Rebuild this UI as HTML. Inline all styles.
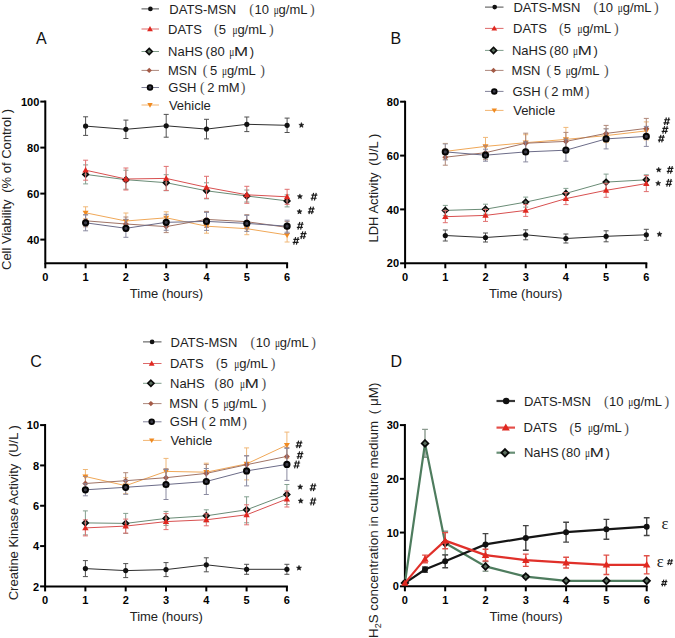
<!DOCTYPE html><html><head><meta charset="utf-8"><style>html,body{margin:0;padding:0;background:#fff;}svg{display:block;}</style></head><body>
<svg width="675" height="638" viewBox="0 0 675 638" font-family='"Liberation Sans", sans-serif'>
<rect width="675" height="638" fill="#fff"/>
<text x="36" y="44" font-size="16" fill="#111">A</text>
<path d="M45.3,101.6V263.3H287.09999999999997" stroke="#000" stroke-width="2" fill="none" stroke-linecap="square"/>
<path d="M40.3,101.6H45.3" stroke="#000" stroke-width="2"/>
<text x="39.3" y="105.69999999999999" text-anchor="end" font-size="11" font-weight="bold">100</text>
<path d="M40.3,147.6H45.3" stroke="#000" stroke-width="2"/>
<text x="39.3" y="151.7" text-anchor="end" font-size="11" font-weight="bold">80</text>
<path d="M40.3,193.6H45.3" stroke="#000" stroke-width="2"/>
<text x="39.3" y="197.7" text-anchor="end" font-size="11" font-weight="bold">60</text>
<path d="M40.3,239.6H45.3" stroke="#000" stroke-width="2"/>
<text x="39.3" y="243.7" text-anchor="end" font-size="11" font-weight="bold">40</text>
<path d="M45.3,263.3V268.3" stroke="#000" stroke-width="2"/>
<text x="45.3" y="280.8" text-anchor="middle" font-size="11" font-weight="bold">0</text>
<path d="M85.6,263.3V268.3" stroke="#000" stroke-width="2"/>
<text x="85.6" y="280.8" text-anchor="middle" font-size="11" font-weight="bold">1</text>
<path d="M125.9,263.3V268.3" stroke="#000" stroke-width="2"/>
<text x="125.9" y="280.8" text-anchor="middle" font-size="11" font-weight="bold">2</text>
<path d="M166.2,263.3V268.3" stroke="#000" stroke-width="2"/>
<text x="166.2" y="280.8" text-anchor="middle" font-size="11" font-weight="bold">3</text>
<path d="M206.5,263.3V268.3" stroke="#000" stroke-width="2"/>
<text x="206.5" y="280.8" text-anchor="middle" font-size="11" font-weight="bold">4</text>
<path d="M246.8,263.3V268.3" stroke="#000" stroke-width="2"/>
<text x="246.8" y="280.8" text-anchor="middle" font-size="11" font-weight="bold">5</text>
<path d="M287.1,263.3V268.3" stroke="#000" stroke-width="2"/>
<text x="287.1" y="280.8" text-anchor="middle" font-size="11" font-weight="bold">6</text>
<text x="166.4" y="298.4" text-anchor="middle" font-size="13" fill="#222">Time (hours)</text>
<text transform="translate(11.1,270) rotate(-90)" font-size="13" fill="#222">Cell Viability <tspan dx="3">(</tspan>% of Control )</text>
<g>
<path d="M85.6,206.8V218.8M83.1,206.8H88.1M83.1,218.8H88.1" stroke="#f0b878" stroke-width="1.0" fill="none"/>
<path d="M125.9,213.0V229.0M123.4,213.0H128.4M123.4,229.0H128.4" stroke="#f0b878" stroke-width="1.0" fill="none"/>
<path d="M166.2,211.8V223.8M163.7,211.8H168.7M163.7,223.8H168.7" stroke="#f0b878" stroke-width="1.0" fill="none"/>
<path d="M206.5,219.2V233.2M204.0,219.2H209.0M204.0,233.2H209.0" stroke="#f0b878" stroke-width="1.0" fill="none"/>
<path d="M246.8,222.7V234.7M244.3,222.7H249.3M244.3,234.7H249.3" stroke="#f0b878" stroke-width="1.0" fill="none"/>
<path d="M287.1,228.0V242.0M284.6,228.0H289.6M284.6,242.0H289.6" stroke="#f0b878" stroke-width="1.0" fill="none"/>
<polyline points="85.6,212.8 125.9,221.0 166.2,217.8 206.5,226.2 246.8,228.7 287.1,235.0" fill="none" stroke="#f0a858" stroke-width="1.0"/>
<path d="M82.6,210.7 L88.6,210.7 L85.6,215.8Z" fill="#f08a20"/>
<path d="M122.9,218.9 L128.9,218.9 L125.9,224.0Z" fill="#f08a20"/>
<path d="M163.2,215.7 L169.2,215.7 L166.2,220.8Z" fill="#f08a20"/>
<path d="M203.5,224.1 L209.5,224.1 L206.5,229.2Z" fill="#f08a20"/>
<path d="M243.8,226.6 L249.8,226.6 L246.8,231.7Z" fill="#f08a20"/>
<path d="M284.1,232.9 L290.1,232.9 L287.1,238.0Z" fill="#f08a20"/>
</g>
<g>
<path d="M85.6,214.8V226.8M83.1,214.8H88.1M83.1,226.8H88.1" stroke="#b08878" stroke-width="1.0" fill="none"/>
<path d="M125.9,217.0V231.0M123.4,217.0H128.4M123.4,231.0H128.4" stroke="#b08878" stroke-width="1.0" fill="none"/>
<path d="M166.2,220.6V232.6M163.7,220.6H168.7M163.7,232.6H168.7" stroke="#b08878" stroke-width="1.0" fill="none"/>
<path d="M206.5,211.4V227.4M204.0,211.4H209.0M204.0,227.4H209.0" stroke="#b08878" stroke-width="1.0" fill="none"/>
<path d="M246.8,214.7V228.7M244.3,214.7H249.3M244.3,228.7H249.3" stroke="#b08878" stroke-width="1.0" fill="none"/>
<path d="M287.1,221.4V233.4M284.6,221.4H289.6M284.6,233.4H289.6" stroke="#b08878" stroke-width="1.0" fill="none"/>
<polyline points="85.6,220.8 125.9,224.0 166.2,226.6 206.5,219.4 246.8,221.7 287.1,227.4" fill="none" stroke="#a07466" stroke-width="1.0"/>
<path d="M85.6,217.8 L88.6,220.8 L85.6,223.8 L82.6,220.8Z" fill="#a45a46"/>
<path d="M125.9,221.0 L128.9,224.0 L125.9,227.0 L122.9,224.0Z" fill="#a45a46"/>
<path d="M166.2,223.6 L169.2,226.6 L166.2,229.6 L163.2,226.6Z" fill="#a45a46"/>
<path d="M206.5,216.4 L209.5,219.4 L206.5,222.4 L203.5,219.4Z" fill="#a45a46"/>
<path d="M246.8,218.7 L249.8,221.7 L246.8,224.7 L243.8,221.7Z" fill="#a45a46"/>
<path d="M287.1,224.4 L290.1,227.4 L287.1,230.4 L284.1,227.4Z" fill="#a45a46"/>
</g>
<g>
<path d="M85.6,214.8V230.8M83.1,214.8H88.1M83.1,230.8H88.1" stroke="#8a8aa0" stroke-width="1.0" fill="none"/>
<path d="M125.9,219.3V237.3M123.4,219.3H128.4M123.4,237.3H128.4" stroke="#8a8aa0" stroke-width="1.0" fill="none"/>
<path d="M166.2,214.3V230.3M163.7,214.3H168.7M163.7,230.3H168.7" stroke="#8a8aa0" stroke-width="1.0" fill="none"/>
<path d="M206.5,212.4V230.4M204.0,212.4H209.0M204.0,230.4H209.0" stroke="#8a8aa0" stroke-width="1.0" fill="none"/>
<path d="M246.8,215.4V231.4M244.3,215.4H249.3M244.3,231.4H249.3" stroke="#8a8aa0" stroke-width="1.0" fill="none"/>
<path d="M287.1,220.2V232.2M284.6,220.2H289.6M284.6,232.2H289.6" stroke="#8a8aa0" stroke-width="1.0" fill="none"/>
<polyline points="85.6,222.8 125.9,228.3 166.2,222.3 206.5,221.4 246.8,223.4 287.1,226.2" fill="none" stroke="#6c6c88" stroke-width="1.0"/>
<circle cx="85.6" cy="222.8" r="2.60" fill="#3c3c48" stroke="#050505" stroke-width="2.00"/>
<circle cx="125.9" cy="228.3" r="2.60" fill="#3c3c48" stroke="#050505" stroke-width="2.00"/>
<circle cx="166.2" cy="222.3" r="2.60" fill="#3c3c48" stroke="#050505" stroke-width="2.00"/>
<circle cx="206.5" cy="221.4" r="2.60" fill="#3c3c48" stroke="#050505" stroke-width="2.00"/>
<circle cx="246.8" cy="223.4" r="2.60" fill="#3c3c48" stroke="#050505" stroke-width="2.00"/>
<circle cx="287.1" cy="226.2" r="2.60" fill="#3c3c48" stroke="#050505" stroke-width="2.00"/>
</g>
<g>
<path d="M85.6,164.9V183.9M83.1,164.9H88.1M83.1,183.9H88.1" stroke="#84a090" stroke-width="1.0" fill="none"/>
<path d="M125.9,170.2V189.2M123.4,170.2H128.4M123.4,189.2H128.4" stroke="#84a090" stroke-width="1.0" fill="none"/>
<path d="M166.2,174.7V190.7M163.7,174.7H168.7M163.7,190.7H168.7" stroke="#84a090" stroke-width="1.0" fill="none"/>
<path d="M206.5,182.8V198.8M204.0,182.8H209.0M204.0,198.8H209.0" stroke="#84a090" stroke-width="1.0" fill="none"/>
<path d="M246.8,190.0V202.0M244.3,190.0H249.3M244.3,202.0H249.3" stroke="#84a090" stroke-width="1.0" fill="none"/>
<path d="M287.1,194.9V206.9M284.6,194.9H289.6M284.6,206.9H289.6" stroke="#84a090" stroke-width="1.0" fill="none"/>
<polyline points="85.6,174.4 125.9,179.7 166.2,182.7 206.5,190.8 246.8,196.0 287.1,200.9" fill="none" stroke="#6a8c76" stroke-width="1.0"/>
<path d="M85.6,171.5 L88.5,174.4 L85.6,177.3 L82.7,174.4Z" fill="#5a6e5e" stroke="#0a0a0a" stroke-width="1.50"/>
<path d="M125.9,176.8 L128.8,179.7 L125.9,182.6 L123.0,179.7Z" fill="#5a6e5e" stroke="#0a0a0a" stroke-width="1.50"/>
<path d="M166.2,179.8 L169.1,182.7 L166.2,185.6 L163.3,182.7Z" fill="#5a6e5e" stroke="#0a0a0a" stroke-width="1.50"/>
<path d="M206.5,187.9 L209.4,190.8 L206.5,193.7 L203.6,190.8Z" fill="#5a6e5e" stroke="#0a0a0a" stroke-width="1.50"/>
<path d="M246.8,193.1 L249.7,196.0 L246.8,198.9 L243.9,196.0Z" fill="#5a6e5e" stroke="#0a0a0a" stroke-width="1.50"/>
<path d="M287.1,198.0 L290.0,200.9 L287.1,203.8 L284.2,200.9Z" fill="#5a6e5e" stroke="#0a0a0a" stroke-width="1.50"/>
</g>
<g>
<path d="M85.6,160.2V180.2M83.1,160.2H88.1M83.1,180.2H88.1" stroke="#e07070" stroke-width="1.0" fill="none"/>
<path d="M125.9,168.0V190.0M123.4,168.0H128.4M123.4,190.0H128.4" stroke="#e07070" stroke-width="1.0" fill="none"/>
<path d="M166.2,166.4V190.4M163.7,166.4H168.7M163.7,190.4H168.7" stroke="#e07070" stroke-width="1.0" fill="none"/>
<path d="M206.5,176.3V198.3M204.0,176.3H209.0M204.0,198.3H209.0" stroke="#e07070" stroke-width="1.0" fill="none"/>
<path d="M246.8,186.3V203.3M244.3,186.3H249.3M244.3,203.3H249.3" stroke="#e07070" stroke-width="1.0" fill="none"/>
<path d="M287.1,189.3V204.3M284.6,189.3H289.6M284.6,204.3H289.6" stroke="#e07070" stroke-width="1.0" fill="none"/>
<polyline points="85.6,170.2 125.9,179.0 166.2,178.4 206.5,187.3 246.8,194.8 287.1,196.8" fill="none" stroke="#d85050" stroke-width="1.0"/>
<path d="M85.6,167.0 L88.8,172.6 L82.4,172.6Z" fill="#e02820"/>
<path d="M125.9,175.8 L129.1,181.4 L122.7,181.4Z" fill="#e02820"/>
<path d="M166.2,175.2 L169.4,180.8 L163.0,180.8Z" fill="#e02820"/>
<path d="M206.5,184.1 L209.7,189.7 L203.3,189.7Z" fill="#e02820"/>
<path d="M246.8,191.6 L250.0,197.2 L243.6,197.2Z" fill="#e02820"/>
<path d="M287.1,193.6 L290.3,199.2 L283.9,199.2Z" fill="#e02820"/>
</g>
<g>
<path d="M85.6,116.8V135.4M83.1,116.8H88.1M83.1,135.4H88.1" stroke="#505050" stroke-width="1.0" fill="none"/>
<path d="M125.9,120.1V138.5M123.4,120.1H128.4M123.4,138.5H128.4" stroke="#505050" stroke-width="1.0" fill="none"/>
<path d="M166.2,114.4V137.2M163.7,114.4H168.7M163.7,137.2H168.7" stroke="#505050" stroke-width="1.0" fill="none"/>
<path d="M206.5,119.3V138.9M204.0,119.3H209.0M204.0,138.9H209.0" stroke="#505050" stroke-width="1.0" fill="none"/>
<path d="M246.8,117.0V131.6M244.3,117.0H249.3M244.3,131.6H249.3" stroke="#505050" stroke-width="1.0" fill="none"/>
<path d="M287.1,118.1V132.5M284.6,118.1H289.6M284.6,132.5H289.6" stroke="#505050" stroke-width="1.0" fill="none"/>
<polyline points="85.6,126.1 125.9,129.3 166.2,125.8 206.5,129.1 246.8,124.3 287.1,125.3" fill="none" stroke="#2e2e2e" stroke-width="1.0"/>
<circle cx="85.6" cy="126.1" r="2.60" fill="#111"/>
<circle cx="125.9" cy="129.3" r="2.60" fill="#111"/>
<circle cx="166.2" cy="125.8" r="2.60" fill="#111"/>
<circle cx="206.5" cy="129.1" r="2.60" fill="#111"/>
<circle cx="246.8" cy="124.3" r="2.60" fill="#111"/>
<circle cx="287.1" cy="125.3" r="2.60" fill="#111"/>
</g>
<polygon points="301.40,122.50 302.11,124.22 303.97,124.37 302.56,125.58 302.99,127.38 301.40,126.42 299.81,127.38 300.24,125.58 298.83,124.37 300.69,124.22" fill="#1a1a1a" stroke="#1a1a1a" stroke-width="0.5" stroke-linejoin="round"/>
<polygon points="299.90,193.90 300.61,195.62 302.47,195.77 301.06,196.98 301.49,198.78 299.90,197.81 298.31,198.78 298.74,196.98 297.33,195.77 299.19,195.62" fill="#1a1a1a" stroke="#1a1a1a" stroke-width="0.5" stroke-linejoin="round"/>
<path d="M313.59,192.90L311.77,200.50M316.23,192.90L314.41,200.50M311.36,195.18H317.36M310.64,198.22H316.64" stroke="#1a1a1a" stroke-width="1.15" fill="none"/>
<polygon points="299.50,209.00 300.21,210.72 302.07,210.87 300.66,212.08 301.09,213.88 299.50,212.91 297.91,213.88 298.34,212.08 296.93,210.87 298.79,210.72" fill="#1a1a1a" stroke="#1a1a1a" stroke-width="0.5" stroke-linejoin="round"/>
<path d="M310.79,206.60L308.97,214.20M313.43,206.60L311.61,214.20M308.56,208.88H314.56M307.84,211.92H313.84" stroke="#1a1a1a" stroke-width="1.15" fill="none"/>
<path d="M299.79,222.00L297.97,229.60M302.43,222.00L300.61,229.60M297.56,224.28H303.56M296.84,227.32H302.84" stroke="#1a1a1a" stroke-width="1.15" fill="none"/>
<path d="M302.79,231.40L300.97,239.00M305.43,231.40L303.61,239.00M300.56,233.68H306.56M299.84,236.72H305.84" stroke="#1a1a1a" stroke-width="1.15" fill="none"/>
<path d="M295.59,237.10L293.77,244.70M298.23,237.10L296.41,244.70M293.36,239.38H299.36M292.64,242.42H298.64" stroke="#1a1a1a" stroke-width="1.15" fill="none"/>
<path d="M141.5,8.9H159" stroke="#2e2e2e" stroke-width="1.0" opacity="0.85"/>
<circle cx="150.4" cy="8.9" r="2.34" fill="#111"/>
<text x="169.3" y="13.5" font-size="13" fill="#1e1e1e">DATS-MSN</text><text x="249.3" y="13.8" font-size="14" font-family="Liberation Serif" fill="#505050">(</text><text x="254.5" y="13.5" font-size="13" fill="#1e1e1e">10</text><text transform="translate(273.7,13.5) scale(0.72,1)" font-size="13" font-family="Liberation Serif" fill="#1e1e1e">μ</text><text x="278.6" y="13.5" font-size="13" fill="#1e1e1e">g/mL</text><text x="310.0" y="13.8" font-size="14" font-family="Liberation Serif" fill="#505050">)</text>
<path d="M141.5,29H159" stroke="#d85050" stroke-width="1.0" opacity="0.85"/>
<path d="M150.0,26.1 L152.9,31.2 L147.1,31.2Z" fill="#e02820"/>
<text x="168.1" y="33.6" font-size="13" fill="#1e1e1e">DATS</text><text x="214.1" y="33.9" font-size="14" font-family="Liberation Serif" fill="#505050">(</text><text x="218.8" y="33.6" font-size="13" fill="#1e1e1e">5</text><text transform="translate(232.5,33.6) scale(0.72,1)" font-size="13" font-family="Liberation Serif" fill="#1e1e1e">μ</text><text x="237.4" y="33.6" font-size="13" fill="#1e1e1e">g/mL</text><text x="268.9" y="33.9" font-size="14" font-family="Liberation Serif" fill="#505050">)</text>
<path d="M141.5,51.5H159" stroke="#6a8c76" stroke-width="1.0" opacity="0.85"/>
<path d="M149.2,48.4 L152.3,51.5 L149.2,54.6 L146.1,51.5Z" fill="#5a6e5e" stroke="#0a0a0a" stroke-width="1.62"/>
<text x="168.1" y="56.1" font-size="13" fill="#1e1e1e">NaHS</text><text x="205.5" y="56.1" font-size="13" fill="#1e1e1e">(</text><text x="210.2" y="56.1" font-size="13" fill="#1e1e1e">80</text><text transform="translate(229.3,56.1) scale(0.72,1)" font-size="13" font-family="Liberation Serif" fill="#1e1e1e">μ</text><text transform="translate(233.9,56.1) scale(1.3,1)" font-size="13" fill="#1e1e1e">M</text><text x="249.7" y="56.1" font-size="13" fill="#1e1e1e">)</text>
<path d="M141.5,70.4H159" stroke="#a07466" stroke-width="1.0" opacity="0.85"/>
<path d="M149.2,67.7 L151.9,70.4 L149.2,73.1 L146.5,70.4Z" fill="#a45a46"/>
<text x="167.9" y="75.0" font-size="13" fill="#1e1e1e">MSN</text><text x="202.7" y="75.3" font-size="14" font-family="Liberation Serif" fill="#505050">(</text><text x="210.1" y="75.0" font-size="13" fill="#1e1e1e">5</text><text transform="translate(222.0,75.0) scale(0.72,1)" font-size="13" font-family="Liberation Serif" fill="#1e1e1e">μ</text><text x="226.9" y="75.0" font-size="13" fill="#1e1e1e">g/mL</text><text x="260.2" y="75.3" font-size="14" font-family="Liberation Serif" fill="#505050">)</text>
<path d="M141.5,87.5H159" stroke="#6c6c88" stroke-width="1.0" opacity="0.85"/>
<circle cx="150.0" cy="87.5" r="2.34" fill="#3c3c48" stroke="#050505" stroke-width="1.80"/>
<text x="168.3" y="92.1" font-size="13" fill="#1e1e1e">GSH</text><text x="200.1" y="92.4" font-size="14" font-family="Liberation Serif" fill="#505050">(</text><text x="207.2" y="92.1" font-size="13" fill="#1e1e1e">2</text><text x="217.9" y="92.1" font-size="13" fill="#1e1e1e">mM</text><text x="240.7" y="92.4" font-size="14" font-family="Liberation Serif" fill="#505050">)</text>
<path d="M141.5,105H159" stroke="#f0a858" stroke-width="1.0" opacity="0.85"/>
<path d="M147.3,103.1 L152.7,103.1 L150.0,107.7Z" fill="#f08a20"/>
<text x="168.9" y="109.6" font-size="13" fill="#1e1e1e">Vehicle</text>
<text x="390.5" y="43.7" font-size="16" fill="#111">B</text>
<path d="M405.1,101.7V263.3H646.3000000000001" stroke="#000" stroke-width="2" fill="none" stroke-linecap="square"/>
<path d="M400.1,101.7H405.1" stroke="#000" stroke-width="2"/>
<text x="399.1" y="105.8" text-anchor="end" font-size="11" font-weight="bold">80</text>
<path d="M400.1,155.6H405.1" stroke="#000" stroke-width="2"/>
<text x="399.1" y="159.7" text-anchor="end" font-size="11" font-weight="bold">60</text>
<path d="M400.1,209.4H405.1" stroke="#000" stroke-width="2"/>
<text x="399.1" y="213.5" text-anchor="end" font-size="11" font-weight="bold">40</text>
<path d="M400.1,263.3H405.1" stroke="#000" stroke-width="2"/>
<text x="399.1" y="267.40000000000003" text-anchor="end" font-size="11" font-weight="bold">20</text>
<path d="M405.1,263.3V268.3" stroke="#000" stroke-width="2"/>
<text x="405.1" y="280.8" text-anchor="middle" font-size="11" font-weight="bold">0</text>
<path d="M445.3,263.3V268.3" stroke="#000" stroke-width="2"/>
<text x="445.3" y="280.8" text-anchor="middle" font-size="11" font-weight="bold">1</text>
<path d="M485.5,263.3V268.3" stroke="#000" stroke-width="2"/>
<text x="485.5" y="280.8" text-anchor="middle" font-size="11" font-weight="bold">2</text>
<path d="M525.7,263.3V268.3" stroke="#000" stroke-width="2"/>
<text x="525.7" y="280.8" text-anchor="middle" font-size="11" font-weight="bold">3</text>
<path d="M565.9,263.3V268.3" stroke="#000" stroke-width="2"/>
<text x="565.9" y="280.8" text-anchor="middle" font-size="11" font-weight="bold">4</text>
<path d="M606.1,263.3V268.3" stroke="#000" stroke-width="2"/>
<text x="606.1" y="280.8" text-anchor="middle" font-size="11" font-weight="bold">5</text>
<path d="M646.3,263.3V268.3" stroke="#000" stroke-width="2"/>
<text x="646.3" y="280.8" text-anchor="middle" font-size="11" font-weight="bold">6</text>
<text x="525.7" y="298.4" text-anchor="middle" font-size="13" fill="#222">Time (hours)</text>
<text transform="translate(377.6,242.5) rotate(-90)" font-size="13" fill="#222">LDH Activity <tspan dx="3">(</tspan>U/L )</text>
<g>
<path d="M445.3,143.4V159.4M442.8,143.4H447.8M442.8,159.4H447.8" stroke="#f0b878" stroke-width="1.0" fill="none"/>
<path d="M485.5,137.4V155.4M483.0,137.4H488.0M483.0,155.4H488.0" stroke="#f0b878" stroke-width="1.0" fill="none"/>
<path d="M525.7,134.7V150.7M523.2,134.7H528.2M523.2,150.7H528.2" stroke="#f0b878" stroke-width="1.0" fill="none"/>
<path d="M565.9,127.4V151.4M563.4,127.4H568.4M563.4,151.4H568.4" stroke="#f0b878" stroke-width="1.0" fill="none"/>
<path d="M606.1,128.6V142.6M603.6,128.6H608.6M603.6,142.6H608.6" stroke="#f0b878" stroke-width="1.0" fill="none"/>
<path d="M646.3,121.9V139.9M643.8,121.9H648.8M643.8,139.9H648.8" stroke="#f0b878" stroke-width="1.0" fill="none"/>
<polyline points="445.3,151.4 485.5,146.4 525.7,142.7 565.9,139.4 606.1,135.6 646.3,130.9" fill="none" stroke="#f0a858" stroke-width="1.0"/>
<path d="M442.3,149.3 L448.3,149.3 L445.3,154.4Z" fill="#f08a20"/>
<path d="M482.5,144.3 L488.5,144.3 L485.5,149.4Z" fill="#f08a20"/>
<path d="M522.7,140.6 L528.7,140.6 L525.7,145.7Z" fill="#f08a20"/>
<path d="M562.9,137.3 L568.9,137.3 L565.9,142.4Z" fill="#f08a20"/>
<path d="M603.1,133.5 L609.1,133.5 L606.1,138.6Z" fill="#f08a20"/>
<path d="M643.3,128.8 L649.3,128.8 L646.3,133.9Z" fill="#f08a20"/>
</g>
<g>
<path d="M445.3,149.2V165.2M442.8,149.2H447.8M442.8,165.2H447.8" stroke="#b08878" stroke-width="1.0" fill="none"/>
<path d="M485.5,145.7V159.7M483.0,145.7H488.0M483.0,159.7H488.0" stroke="#b08878" stroke-width="1.0" fill="none"/>
<path d="M525.7,133.2V153.2M523.2,133.2H528.2M523.2,153.2H528.2" stroke="#b08878" stroke-width="1.0" fill="none"/>
<path d="M565.9,132.4V150.4M563.4,132.4H568.4M563.4,150.4H568.4" stroke="#b08878" stroke-width="1.0" fill="none"/>
<path d="M606.1,125.4V141.4M603.6,125.4H608.6M603.6,141.4H608.6" stroke="#b08878" stroke-width="1.0" fill="none"/>
<path d="M646.3,118.4V138.4M643.8,118.4H648.8M643.8,138.4H648.8" stroke="#b08878" stroke-width="1.0" fill="none"/>
<polyline points="445.3,157.2 485.5,152.7 525.7,143.2 565.9,141.4 606.1,133.4 646.3,128.4" fill="none" stroke="#a07466" stroke-width="1.0"/>
<path d="M445.3,154.2 L448.3,157.2 L445.3,160.2 L442.3,157.2Z" fill="#a45a46"/>
<path d="M485.5,149.7 L488.5,152.7 L485.5,155.7 L482.5,152.7Z" fill="#a45a46"/>
<path d="M525.7,140.2 L528.7,143.2 L525.7,146.2 L522.7,143.2Z" fill="#a45a46"/>
<path d="M565.9,138.4 L568.9,141.4 L565.9,144.4 L562.9,141.4Z" fill="#a45a46"/>
<path d="M606.1,130.4 L609.1,133.4 L606.1,136.4 L603.1,133.4Z" fill="#a45a46"/>
<path d="M646.3,125.4 L649.3,128.4 L646.3,131.4 L643.3,128.4Z" fill="#a45a46"/>
</g>
<g>
<path d="M445.3,143.9V159.9M442.8,143.9H447.8M442.8,159.9H447.8" stroke="#8a8aa0" stroke-width="1.0" fill="none"/>
<path d="M485.5,149.2V161.2M483.0,149.2H488.0M483.0,161.2H488.0" stroke="#8a8aa0" stroke-width="1.0" fill="none"/>
<path d="M525.7,141.9V161.9M523.2,141.9H528.2M523.2,161.9H528.2" stroke="#8a8aa0" stroke-width="1.0" fill="none"/>
<path d="M565.9,139.2V161.2M563.4,139.2H568.4M563.4,161.2H568.4" stroke="#8a8aa0" stroke-width="1.0" fill="none"/>
<path d="M606.1,128.9V148.9M603.6,128.9H608.6M603.6,148.9H608.6" stroke="#8a8aa0" stroke-width="1.0" fill="none"/>
<path d="M646.3,126.4V146.4M643.8,126.4H648.8M643.8,146.4H648.8" stroke="#8a8aa0" stroke-width="1.0" fill="none"/>
<polyline points="445.3,151.9 485.5,155.2 525.7,151.9 565.9,150.2 606.1,138.9 646.3,136.4" fill="none" stroke="#6c6c88" stroke-width="1.0"/>
<circle cx="445.3" cy="151.9" r="2.60" fill="#3c3c48" stroke="#050505" stroke-width="2.00"/>
<circle cx="485.5" cy="155.2" r="2.60" fill="#3c3c48" stroke="#050505" stroke-width="2.00"/>
<circle cx="525.7" cy="151.9" r="2.60" fill="#3c3c48" stroke="#050505" stroke-width="2.00"/>
<circle cx="565.9" cy="150.2" r="2.60" fill="#3c3c48" stroke="#050505" stroke-width="2.00"/>
<circle cx="606.1" cy="138.9" r="2.60" fill="#3c3c48" stroke="#050505" stroke-width="2.00"/>
<circle cx="646.3" cy="136.4" r="2.60" fill="#3c3c48" stroke="#050505" stroke-width="2.00"/>
</g>
<g>
<path d="M445.3,205.4V215.4M442.8,205.4H447.8M442.8,215.4H447.8" stroke="#84a090" stroke-width="1.0" fill="none"/>
<path d="M485.5,204.2V214.2M483.0,204.2H488.0M483.0,214.2H488.0" stroke="#84a090" stroke-width="1.0" fill="none"/>
<path d="M525.7,197.1V207.1M523.2,197.1H528.2M523.2,207.1H528.2" stroke="#84a090" stroke-width="1.0" fill="none"/>
<path d="M565.9,188.4V198.4M563.4,188.4H568.4M563.4,198.4H568.4" stroke="#84a090" stroke-width="1.0" fill="none"/>
<path d="M606.1,174.1V190.1M603.6,174.1H608.6M603.6,190.1H608.6" stroke="#84a090" stroke-width="1.0" fill="none"/>
<path d="M646.3,174.8V184.8M643.8,174.8H648.8M643.8,184.8H648.8" stroke="#84a090" stroke-width="1.0" fill="none"/>
<polyline points="445.3,210.4 485.5,209.2 525.7,202.1 565.9,193.4 606.1,182.1 646.3,179.8" fill="none" stroke="#6a8c76" stroke-width="1.0"/>
<path d="M445.3,207.5 L448.2,210.4 L445.3,213.3 L442.4,210.4Z" fill="#5a6e5e" stroke="#0a0a0a" stroke-width="1.50"/>
<path d="M485.5,206.3 L488.4,209.2 L485.5,212.1 L482.6,209.2Z" fill="#5a6e5e" stroke="#0a0a0a" stroke-width="1.50"/>
<path d="M525.7,199.2 L528.6,202.1 L525.7,205.0 L522.8,202.1Z" fill="#5a6e5e" stroke="#0a0a0a" stroke-width="1.50"/>
<path d="M565.9,190.5 L568.8,193.4 L565.9,196.3 L563.0,193.4Z" fill="#5a6e5e" stroke="#0a0a0a" stroke-width="1.50"/>
<path d="M606.1,179.2 L609.0,182.1 L606.1,185.0 L603.2,182.1Z" fill="#5a6e5e" stroke="#0a0a0a" stroke-width="1.50"/>
<path d="M646.3,176.9 L649.2,179.8 L646.3,182.7 L643.4,179.8Z" fill="#5a6e5e" stroke="#0a0a0a" stroke-width="1.50"/>
</g>
<g>
<path d="M445.3,210.7V222.7M442.8,210.7H447.8M442.8,222.7H447.8" stroke="#e07070" stroke-width="1.0" fill="none"/>
<path d="M485.5,209.4V221.4M483.0,209.4H488.0M483.0,221.4H488.0" stroke="#e07070" stroke-width="1.0" fill="none"/>
<path d="M525.7,204.4V216.4M523.2,204.4H528.2M523.2,216.4H528.2" stroke="#e07070" stroke-width="1.0" fill="none"/>
<path d="M565.9,192.6V204.6M563.4,192.6H568.4M563.4,204.6H568.4" stroke="#e07070" stroke-width="1.0" fill="none"/>
<path d="M606.1,183.3V197.3M603.6,183.3H608.6M603.6,197.3H608.6" stroke="#e07070" stroke-width="1.0" fill="none"/>
<path d="M646.3,175.6V191.6M643.8,175.6H648.8M643.8,191.6H648.8" stroke="#e07070" stroke-width="1.0" fill="none"/>
<polyline points="445.3,216.7 485.5,215.4 525.7,210.4 565.9,198.6 606.1,190.3 646.3,183.6" fill="none" stroke="#d85050" stroke-width="1.0"/>
<path d="M445.3,213.5 L448.5,219.1 L442.1,219.1Z" fill="#e02820"/>
<path d="M485.5,212.2 L488.7,217.8 L482.3,217.8Z" fill="#e02820"/>
<path d="M525.7,207.2 L528.9,212.8 L522.5,212.8Z" fill="#e02820"/>
<path d="M565.9,195.4 L569.1,201.0 L562.7,201.0Z" fill="#e02820"/>
<path d="M606.1,187.1 L609.3,192.7 L602.9,192.7Z" fill="#e02820"/>
<path d="M646.3,180.4 L649.5,186.0 L643.1,186.0Z" fill="#e02820"/>
</g>
<g>
<path d="M445.3,230.0V241.0M442.8,230.0H447.8M442.8,241.0H447.8" stroke="#505050" stroke-width="1.0" fill="none"/>
<path d="M485.5,233.0V242.0M483.0,233.0H488.0M483.0,242.0H488.0" stroke="#505050" stroke-width="1.0" fill="none"/>
<path d="M525.7,229.8V239.8M523.2,229.8H528.2M523.2,239.8H528.2" stroke="#505050" stroke-width="1.0" fill="none"/>
<path d="M565.9,234.0V243.0M563.4,234.0H568.4M563.4,243.0H568.4" stroke="#505050" stroke-width="1.0" fill="none"/>
<path d="M606.1,230.8V241.8M603.6,230.8H608.6M603.6,241.8H608.6" stroke="#505050" stroke-width="1.0" fill="none"/>
<path d="M646.3,229.3V240.3M643.8,229.3H648.8M643.8,240.3H648.8" stroke="#505050" stroke-width="1.0" fill="none"/>
<polyline points="445.3,235.5 485.5,237.5 525.7,234.8 565.9,238.5 606.1,236.3 646.3,234.8" fill="none" stroke="#2e2e2e" stroke-width="1.0"/>
<circle cx="445.3" cy="235.5" r="2.60" fill="#111"/>
<circle cx="485.5" cy="237.5" r="2.60" fill="#111"/>
<circle cx="525.7" cy="234.8" r="2.60" fill="#111"/>
<circle cx="565.9" cy="238.5" r="2.60" fill="#111"/>
<circle cx="606.1" cy="236.3" r="2.60" fill="#111"/>
<circle cx="646.3" cy="234.8" r="2.60" fill="#111"/>
</g>
<polygon points="659.50,231.60 660.21,233.32 662.07,233.47 660.66,234.68 661.09,236.48 659.50,235.52 657.91,236.48 658.34,234.68 656.93,233.47 658.79,233.32" fill="#1a1a1a" stroke="#1a1a1a" stroke-width="0.5" stroke-linejoin="round"/>
<path d="M666.39,117.50L664.57,125.10M669.03,117.50L667.21,125.10M664.16,119.78H670.16M663.44,122.82H669.44" stroke="#1a1a1a" stroke-width="1.15" fill="none"/>
<path d="M664.59,126.10L662.77,133.70M667.23,126.10L665.41,133.70M662.36,128.38H668.36M661.64,131.42H667.64" stroke="#1a1a1a" stroke-width="1.15" fill="none"/>
<path d="M660.89,134.80L659.07,142.40M663.53,134.80L661.71,142.40M658.66,137.08H664.66M657.94,140.12H663.94" stroke="#1a1a1a" stroke-width="1.15" fill="none"/>
<polygon points="658.70,167.20 659.41,168.92 661.27,169.07 659.86,170.28 660.29,172.08 658.70,171.12 657.11,172.08 657.54,170.28 656.13,169.07 657.99,168.92" fill="#1a1a1a" stroke="#1a1a1a" stroke-width="0.5" stroke-linejoin="round"/>
<path d="M669.69,166.10L667.87,173.70M672.33,166.10L670.51,173.70M667.46,168.38H673.46M666.74,171.42H672.74" stroke="#1a1a1a" stroke-width="1.15" fill="none"/>
<polygon points="658.20,180.70 658.91,182.42 660.77,182.57 659.36,183.78 659.79,185.58 658.20,184.62 656.61,185.58 657.04,183.78 655.63,182.57 657.49,182.42" fill="#1a1a1a" stroke="#1a1a1a" stroke-width="0.5" stroke-linejoin="round"/>
<path d="M668.59,179.00L666.77,186.60M671.23,179.00L669.41,186.60M666.36,181.28H672.36M665.64,184.32H671.64" stroke="#1a1a1a" stroke-width="1.15" fill="none"/>
<path d="M485,7.1H503.5" stroke="#2e2e2e" stroke-width="1.0" opacity="0.85"/>
<circle cx="494.7" cy="7.1" r="2.34" fill="#111"/>
<text x="513.4" y="11.7" font-size="13" fill="#1e1e1e">DATS-MSN</text><text x="593.4" y="12.0" font-size="14" font-family="Liberation Serif" fill="#505050">(</text><text x="598.6" y="11.7" font-size="13" fill="#1e1e1e">10</text><text transform="translate(617.8,11.7) scale(0.72,1)" font-size="13" font-family="Liberation Serif" fill="#1e1e1e">μ</text><text x="622.7" y="11.7" font-size="13" fill="#1e1e1e">g/mL</text><text x="654.1" y="12.0" font-size="14" font-family="Liberation Serif" fill="#505050">)</text>
<path d="M485,28.4H503.5" stroke="#d85050" stroke-width="1.0" opacity="0.85"/>
<path d="M494.3,25.5 L497.2,30.6 L491.4,30.6Z" fill="#e02820"/>
<text x="513.1" y="33.0" font-size="13" fill="#1e1e1e">DATS</text><text x="559.1" y="33.3" font-size="14" font-family="Liberation Serif" fill="#505050">(</text><text x="563.8" y="33.0" font-size="13" fill="#1e1e1e">5</text><text transform="translate(577.5,33.0) scale(0.72,1)" font-size="13" font-family="Liberation Serif" fill="#1e1e1e">μ</text><text x="582.4" y="33.0" font-size="13" fill="#1e1e1e">g/mL</text><text x="613.9" y="33.3" font-size="14" font-family="Liberation Serif" fill="#505050">)</text>
<path d="M485,50.4H503.5" stroke="#6a8c76" stroke-width="1.0" opacity="0.85"/>
<path d="M493.5,47.3 L496.6,50.4 L493.5,53.5 L490.4,50.4Z" fill="#5a6e5e" stroke="#0a0a0a" stroke-width="1.62"/>
<text x="511.9" y="55.0" font-size="13" fill="#1e1e1e">NaHS</text><text x="549.3" y="55.0" font-size="13" fill="#1e1e1e">(</text><text x="554.0" y="55.0" font-size="13" fill="#1e1e1e">80</text><text transform="translate(573.1,55.0) scale(0.72,1)" font-size="13" font-family="Liberation Serif" fill="#1e1e1e">μ</text><text transform="translate(577.7,55.0) scale(1.3,1)" font-size="13" fill="#1e1e1e">M</text><text x="593.5" y="55.0" font-size="13" fill="#1e1e1e">)</text>
<path d="M485,70.4H503.5" stroke="#a07466" stroke-width="1.0" opacity="0.85"/>
<path d="M493.5,67.7 L496.2,70.4 L493.5,73.1 L490.8,70.4Z" fill="#a45a46"/>
<text x="511.6" y="75.0" font-size="13" fill="#1e1e1e">MSN</text><text x="546.4" y="75.3" font-size="14" font-family="Liberation Serif" fill="#505050">(</text><text x="553.8" y="75.0" font-size="13" fill="#1e1e1e">5</text><text transform="translate(565.7,75.0) scale(0.72,1)" font-size="13" font-family="Liberation Serif" fill="#1e1e1e">μ</text><text x="570.6" y="75.0" font-size="13" fill="#1e1e1e">g/mL</text><text x="603.9" y="75.3" font-size="14" font-family="Liberation Serif" fill="#505050">)</text>
<path d="M485,91.4H503.5" stroke="#6c6c88" stroke-width="1.0" opacity="0.85"/>
<circle cx="494.3" cy="91.4" r="2.34" fill="#3c3c48" stroke="#050505" stroke-width="1.80"/>
<text x="512.4" y="96.0" font-size="13" fill="#1e1e1e">GSH</text><text x="544.2" y="96.3" font-size="14" font-family="Liberation Serif" fill="#505050">(</text><text x="551.3" y="96.0" font-size="13" fill="#1e1e1e">2</text><text x="562.0" y="96.0" font-size="13" fill="#1e1e1e">mM</text><text x="584.8" y="96.3" font-size="14" font-family="Liberation Serif" fill="#505050">)</text>
<path d="M485,110.4H503.5" stroke="#f0a858" stroke-width="1.0" opacity="0.85"/>
<path d="M491.6,108.5 L497.0,108.5 L494.3,113.1Z" fill="#f08a20"/>
<text x="513.2" y="115.0" font-size="13" fill="#1e1e1e">Vehicle</text>
<text x="30.3" y="367.2" font-size="16" fill="#111">C</text>
<path d="M45.1,425.1V586.4H286.9" stroke="#000" stroke-width="2" fill="none" stroke-linecap="square"/>
<path d="M40.1,425.1H45.1" stroke="#000" stroke-width="2"/>
<text x="39.1" y="429.20000000000005" text-anchor="end" font-size="11" font-weight="bold">10</text>
<path d="M40.1,465.425H45.1" stroke="#000" stroke-width="2"/>
<text x="39.1" y="469.52500000000003" text-anchor="end" font-size="11" font-weight="bold">8</text>
<path d="M40.1,505.75H45.1" stroke="#000" stroke-width="2"/>
<text x="39.1" y="509.85" text-anchor="end" font-size="11" font-weight="bold">6</text>
<path d="M40.1,546.075H45.1" stroke="#000" stroke-width="2"/>
<text x="39.1" y="550.1750000000001" text-anchor="end" font-size="11" font-weight="bold">4</text>
<path d="M40.1,586.4H45.1" stroke="#000" stroke-width="2"/>
<text x="39.1" y="590.5" text-anchor="end" font-size="11" font-weight="bold">2</text>
<path d="M45.1,586.4V591.4" stroke="#000" stroke-width="2"/>
<text x="45.1" y="603.9" text-anchor="middle" font-size="11" font-weight="bold">0</text>
<path d="M85.4,586.4V591.4" stroke="#000" stroke-width="2"/>
<text x="85.4" y="603.9" text-anchor="middle" font-size="11" font-weight="bold">1</text>
<path d="M125.7,586.4V591.4" stroke="#000" stroke-width="2"/>
<text x="125.7" y="603.9" text-anchor="middle" font-size="11" font-weight="bold">2</text>
<path d="M166.0,586.4V591.4" stroke="#000" stroke-width="2"/>
<text x="166.0" y="603.9" text-anchor="middle" font-size="11" font-weight="bold">3</text>
<path d="M206.3,586.4V591.4" stroke="#000" stroke-width="2"/>
<text x="206.3" y="603.9" text-anchor="middle" font-size="11" font-weight="bold">4</text>
<path d="M246.6,586.4V591.4" stroke="#000" stroke-width="2"/>
<text x="246.6" y="603.9" text-anchor="middle" font-size="11" font-weight="bold">5</text>
<path d="M286.9,586.4V591.4" stroke="#000" stroke-width="2"/>
<text x="286.9" y="603.9" text-anchor="middle" font-size="11" font-weight="bold">6</text>
<text x="166.3" y="621" text-anchor="middle" font-size="13" fill="#222">Time (hours)</text>
<text transform="translate(18.1,600.3) rotate(-90)" font-size="13" fill="#222">Creatine Kinase Activity <tspan dx="3">(</tspan>U/L )</text>
<g>
<path d="M85.4,469.5V483.5M82.9,469.5H87.9M82.9,483.5H87.9" stroke="#f0b878" stroke-width="1.0" fill="none"/>
<path d="M125.7,477.7V493.7M123.2,477.7H128.2M123.2,493.7H128.2" stroke="#f0b878" stroke-width="1.0" fill="none"/>
<path d="M166.0,458.4V484.4M163.5,458.4H168.5M163.5,484.4H168.5" stroke="#f0b878" stroke-width="1.0" fill="none"/>
<path d="M206.3,463.2V481.2M203.8,463.2H208.8M203.8,481.2H208.8" stroke="#f0b878" stroke-width="1.0" fill="none"/>
<path d="M246.6,447.9V479.9M244.1,447.9H249.1M244.1,479.9H249.1" stroke="#f0b878" stroke-width="1.0" fill="none"/>
<path d="M286.9,432.1V458.1M284.4,432.1H289.4M284.4,458.1H289.4" stroke="#f0b878" stroke-width="1.0" fill="none"/>
<polyline points="85.4,476.5 125.7,485.7 166.0,471.4 206.3,472.2 246.6,463.9 286.9,445.1" fill="none" stroke="#f0a858" stroke-width="1.0"/>
<path d="M82.4,474.4 L88.4,474.4 L85.4,479.5Z" fill="#f08a20"/>
<path d="M122.7,483.6 L128.7,483.6 L125.7,488.7Z" fill="#f08a20"/>
<path d="M163.0,469.3 L169.0,469.3 L166.0,474.4Z" fill="#f08a20"/>
<path d="M203.3,470.1 L209.3,470.1 L206.3,475.2Z" fill="#f08a20"/>
<path d="M243.6,461.8 L249.6,461.8 L246.6,466.9Z" fill="#f08a20"/>
<path d="M283.9,443.0 L289.9,443.0 L286.9,448.1Z" fill="#f08a20"/>
</g>
<g>
<path d="M85.4,476.5V490.5M82.9,476.5H87.9M82.9,490.5H87.9" stroke="#b08878" stroke-width="1.0" fill="none"/>
<path d="M125.7,472.7V488.7M123.2,472.7H128.2M123.2,488.7H128.2" stroke="#b08878" stroke-width="1.0" fill="none"/>
<path d="M166.0,468.7V486.7M163.5,468.7H168.5M163.5,486.7H168.5" stroke="#b08878" stroke-width="1.0" fill="none"/>
<path d="M206.3,464.4V482.4M203.8,464.4H208.8M203.8,482.4H208.8" stroke="#b08878" stroke-width="1.0" fill="none"/>
<path d="M246.6,455.7V473.7M244.1,455.7H249.1M244.1,473.7H249.1" stroke="#b08878" stroke-width="1.0" fill="none"/>
<path d="M286.9,447.4V465.4M284.4,447.4H289.4M284.4,465.4H289.4" stroke="#b08878" stroke-width="1.0" fill="none"/>
<polyline points="85.4,483.5 125.7,480.7 166.0,477.7 206.3,473.4 246.6,464.7 286.9,456.4" fill="none" stroke="#a07466" stroke-width="1.0"/>
<path d="M85.4,480.5 L88.4,483.5 L85.4,486.5 L82.4,483.5Z" fill="#a45a46"/>
<path d="M125.7,477.7 L128.7,480.7 L125.7,483.7 L122.7,480.7Z" fill="#a45a46"/>
<path d="M166.0,474.7 L169.0,477.7 L166.0,480.7 L163.0,477.7Z" fill="#a45a46"/>
<path d="M206.3,470.4 L209.3,473.4 L206.3,476.4 L203.3,473.4Z" fill="#a45a46"/>
<path d="M246.6,461.7 L249.6,464.7 L246.6,467.7 L243.6,464.7Z" fill="#a45a46"/>
<path d="M286.9,453.4 L289.9,456.4 L286.9,459.4 L283.9,456.4Z" fill="#a45a46"/>
</g>
<g>
<path d="M85.4,483.8V495.8M82.9,483.8H87.9M82.9,495.8H87.9" stroke="#8a8aa0" stroke-width="1.0" fill="none"/>
<path d="M125.7,480.3V494.3M123.2,480.3H128.2M123.2,494.3H128.2" stroke="#8a8aa0" stroke-width="1.0" fill="none"/>
<path d="M166.0,469.5V499.5M163.5,469.5H168.5M163.5,499.5H168.5" stroke="#8a8aa0" stroke-width="1.0" fill="none"/>
<path d="M206.3,468.5V494.5M203.8,468.5H208.8M203.8,494.5H208.8" stroke="#8a8aa0" stroke-width="1.0" fill="none"/>
<path d="M246.6,455.9V485.9M244.1,455.9H249.1M244.1,485.9H249.1" stroke="#8a8aa0" stroke-width="1.0" fill="none"/>
<path d="M286.9,448.4V480.4M284.4,448.4H289.4M284.4,480.4H289.4" stroke="#8a8aa0" stroke-width="1.0" fill="none"/>
<polyline points="85.4,489.8 125.7,487.3 166.0,484.5 206.3,481.5 246.6,470.9 286.9,464.4" fill="none" stroke="#6c6c88" stroke-width="1.0"/>
<circle cx="85.4" cy="489.8" r="2.60" fill="#3c3c48" stroke="#050505" stroke-width="2.00"/>
<circle cx="125.7" cy="487.3" r="2.60" fill="#3c3c48" stroke="#050505" stroke-width="2.00"/>
<circle cx="166.0" cy="484.5" r="2.60" fill="#3c3c48" stroke="#050505" stroke-width="2.00"/>
<circle cx="206.3" cy="481.5" r="2.60" fill="#3c3c48" stroke="#050505" stroke-width="2.00"/>
<circle cx="246.6" cy="470.9" r="2.60" fill="#3c3c48" stroke="#050505" stroke-width="2.00"/>
<circle cx="286.9" cy="464.4" r="2.60" fill="#3c3c48" stroke="#050505" stroke-width="2.00"/>
</g>
<g>
<path d="M85.4,510.9V534.9M82.9,510.9H87.9M82.9,534.9H87.9" stroke="#84a090" stroke-width="1.0" fill="none"/>
<path d="M125.7,513.4V533.4M123.2,513.4H128.2M123.2,533.4H128.2" stroke="#84a090" stroke-width="1.0" fill="none"/>
<path d="M166.0,511.4V525.4M163.5,511.4H168.5M163.5,525.4H168.5" stroke="#84a090" stroke-width="1.0" fill="none"/>
<path d="M206.3,509.8V521.8M203.8,509.8H208.8M203.8,521.8H208.8" stroke="#84a090" stroke-width="1.0" fill="none"/>
<path d="M246.6,496.8V522.8M244.1,496.8H249.1M244.1,522.8H249.1" stroke="#84a090" stroke-width="1.0" fill="none"/>
<path d="M286.9,484.5V504.5M284.4,484.5H289.4M284.4,504.5H289.4" stroke="#84a090" stroke-width="1.0" fill="none"/>
<polyline points="85.4,522.9 125.7,523.4 166.0,518.4 206.3,515.8 246.6,509.8 286.9,494.5" fill="none" stroke="#6a8c76" stroke-width="1.0"/>
<path d="M85.4,520.0 L88.3,522.9 L85.4,525.8 L82.5,522.9Z" fill="#5a6e5e" stroke="#0a0a0a" stroke-width="1.50"/>
<path d="M125.7,520.5 L128.6,523.4 L125.7,526.3 L122.8,523.4Z" fill="#5a6e5e" stroke="#0a0a0a" stroke-width="1.50"/>
<path d="M166.0,515.5 L168.9,518.4 L166.0,521.3 L163.1,518.4Z" fill="#5a6e5e" stroke="#0a0a0a" stroke-width="1.50"/>
<path d="M206.3,512.9 L209.2,515.8 L206.3,518.7 L203.4,515.8Z" fill="#5a6e5e" stroke="#0a0a0a" stroke-width="1.50"/>
<path d="M246.6,506.9 L249.5,509.8 L246.6,512.7 L243.7,509.8Z" fill="#5a6e5e" stroke="#0a0a0a" stroke-width="1.50"/>
<path d="M286.9,491.6 L289.8,494.5 L286.9,497.4 L284.0,494.5Z" fill="#5a6e5e" stroke="#0a0a0a" stroke-width="1.50"/>
</g>
<g>
<path d="M85.4,519.9V535.9M82.9,519.9H87.9M82.9,535.9H87.9" stroke="#e07070" stroke-width="1.0" fill="none"/>
<path d="M125.7,519.1V533.1M123.2,519.1H128.2M123.2,533.1H128.2" stroke="#e07070" stroke-width="1.0" fill="none"/>
<path d="M166.0,513.6V529.6M163.5,513.6H168.5M163.5,529.6H168.5" stroke="#e07070" stroke-width="1.0" fill="none"/>
<path d="M206.3,513.8V525.8M203.8,513.8H208.8M203.8,525.8H208.8" stroke="#e07070" stroke-width="1.0" fill="none"/>
<path d="M246.6,504.8V524.8M244.1,504.8H249.1M244.1,524.8H249.1" stroke="#e07070" stroke-width="1.0" fill="none"/>
<path d="M286.9,491.0V507.0M284.4,491.0H289.4M284.4,507.0H289.4" stroke="#e07070" stroke-width="1.0" fill="none"/>
<polyline points="85.4,527.9 125.7,526.1 166.0,521.6 206.3,519.8 246.6,514.8 286.9,499.0" fill="none" stroke="#d85050" stroke-width="1.0"/>
<path d="M85.4,524.7 L88.6,530.3 L82.2,530.3Z" fill="#e02820"/>
<path d="M125.7,522.9 L128.9,528.5 L122.5,528.5Z" fill="#e02820"/>
<path d="M166.0,518.4 L169.2,524.0 L162.8,524.0Z" fill="#e02820"/>
<path d="M206.3,516.6 L209.5,522.2 L203.1,522.2Z" fill="#e02820"/>
<path d="M246.6,511.6 L249.8,517.2 L243.4,517.2Z" fill="#e02820"/>
<path d="M286.9,495.8 L290.1,501.4 L283.7,501.4Z" fill="#e02820"/>
</g>
<g>
<path d="M85.4,560.6V576.6M82.9,560.6H87.9M82.9,576.6H87.9" stroke="#505050" stroke-width="1.0" fill="none"/>
<path d="M125.7,563.6V577.6M123.2,563.6H128.2M123.2,577.6H128.2" stroke="#505050" stroke-width="1.0" fill="none"/>
<path d="M166.0,562.6V576.6M163.5,562.6H168.5M163.5,576.6H168.5" stroke="#505050" stroke-width="1.0" fill="none"/>
<path d="M206.3,557.8V571.8M203.8,557.8H208.8M203.8,571.8H208.8" stroke="#505050" stroke-width="1.0" fill="none"/>
<path d="M246.6,564.3V574.3M244.1,564.3H249.1M244.1,574.3H249.1" stroke="#505050" stroke-width="1.0" fill="none"/>
<path d="M286.9,564.3V574.3M284.4,564.3H289.4M284.4,574.3H289.4" stroke="#505050" stroke-width="1.0" fill="none"/>
<polyline points="85.4,568.6 125.7,570.6 166.0,569.6 206.3,564.8 246.6,569.3 286.9,569.3" fill="none" stroke="#2e2e2e" stroke-width="1.0"/>
<circle cx="85.4" cy="568.6" r="2.60" fill="#111"/>
<circle cx="125.7" cy="570.6" r="2.60" fill="#111"/>
<circle cx="166.0" cy="569.6" r="2.60" fill="#111"/>
<circle cx="206.3" cy="564.8" r="2.60" fill="#111"/>
<circle cx="246.6" cy="569.3" r="2.60" fill="#111"/>
<circle cx="286.9" cy="569.3" r="2.60" fill="#111"/>
</g>
<polygon points="299.00,565.30 299.71,567.02 301.57,567.17 300.16,568.38 300.59,570.18 299.00,569.22 297.41,570.18 297.84,568.38 296.43,567.17 298.29,567.02" fill="#1a1a1a" stroke="#1a1a1a" stroke-width="0.5" stroke-linejoin="round"/>
<path d="M298.59,440.60L296.77,448.20M301.23,440.60L299.41,448.20M296.36,442.88H302.36M295.64,445.92H301.64" stroke="#1a1a1a" stroke-width="1.15" fill="none"/>
<path d="M299.59,451.40L297.77,459.00M302.23,451.40L300.41,459.00M297.36,453.68H303.36M296.64,456.72H302.64" stroke="#1a1a1a" stroke-width="1.15" fill="none"/>
<path d="M296.39,460.70L294.57,468.30M299.03,460.70L297.21,468.30M294.16,462.98H300.16M293.44,466.02H299.44" stroke="#1a1a1a" stroke-width="1.15" fill="none"/>
<polygon points="300.20,484.30 300.91,486.02 302.77,486.17 301.36,487.38 301.79,489.18 300.20,488.21 298.61,489.18 299.04,487.38 297.63,486.17 299.49,486.02" fill="#1a1a1a" stroke="#1a1a1a" stroke-width="0.5" stroke-linejoin="round"/>
<path d="M312.59,483.50L310.77,491.10M315.23,483.50L313.41,491.10M310.36,485.78H316.36M309.64,488.82H315.64" stroke="#1a1a1a" stroke-width="1.15" fill="none"/>
<polygon points="300.70,498.30 301.41,500.02 303.27,500.17 301.86,501.38 302.29,503.18 300.70,502.21 299.11,503.18 299.54,501.38 298.13,500.17 299.99,500.02" fill="#1a1a1a" stroke="#1a1a1a" stroke-width="0.5" stroke-linejoin="round"/>
<path d="M312.59,497.70L310.77,505.30M315.23,497.70L313.41,505.30M310.36,499.98H316.36M309.64,503.02H315.64" stroke="#1a1a1a" stroke-width="1.15" fill="none"/>
<path d="M143,341.9H161.5" stroke="#2e2e2e" stroke-width="1.0" opacity="0.85"/>
<circle cx="152.1" cy="341.9" r="2.34" fill="#111"/>
<text x="170.5" y="346.5" font-size="13" fill="#1e1e1e">DATS-MSN</text><text x="250.5" y="346.8" font-size="14" font-family="Liberation Serif" fill="#505050">(</text><text x="255.7" y="346.5" font-size="13" fill="#1e1e1e">10</text><text transform="translate(274.9,346.5) scale(0.72,1)" font-size="13" font-family="Liberation Serif" fill="#1e1e1e">μ</text><text x="279.8" y="346.5" font-size="13" fill="#1e1e1e">g/mL</text><text x="311.2" y="346.8" font-size="14" font-family="Liberation Serif" fill="#505050">)</text>
<path d="M143,363.5H161.5" stroke="#d85050" stroke-width="1.0" opacity="0.85"/>
<path d="M151.7,360.6 L154.6,365.7 L148.8,365.7Z" fill="#e02820"/>
<text x="169.9" y="368.1" font-size="13" fill="#1e1e1e">DATS</text><text x="215.9" y="368.4" font-size="14" font-family="Liberation Serif" fill="#505050">(</text><text x="220.6" y="368.1" font-size="13" fill="#1e1e1e">5</text><text transform="translate(234.3,368.1) scale(0.72,1)" font-size="13" font-family="Liberation Serif" fill="#1e1e1e">μ</text><text x="239.2" y="368.1" font-size="13" fill="#1e1e1e">g/mL</text><text x="270.7" y="368.4" font-size="14" font-family="Liberation Serif" fill="#505050">)</text>
<path d="M143,383.3H161.5" stroke="#6a8c76" stroke-width="1.0" opacity="0.85"/>
<path d="M150.9,380.2 L154.0,383.3 L150.9,386.4 L147.8,383.3Z" fill="#5a6e5e" stroke="#0a0a0a" stroke-width="1.62"/>
<text x="170.0" y="387.9" font-size="13" fill="#1e1e1e">NaHS</text><text x="214.6" y="388.2" font-size="14" font-family="Liberation Serif" fill="#505050">(</text><text x="219.2" y="387.9" font-size="13" fill="#1e1e1e">80</text><text transform="translate(240.1,387.9) scale(0.72,1)" font-size="13" font-family="Liberation Serif" fill="#1e1e1e">μ</text><text transform="translate(244.7,387.9) scale(1.3,1)" font-size="13" fill="#1e1e1e">M</text><text x="261.4" y="388.2" font-size="14" font-family="Liberation Serif" fill="#505050">)</text>
<path d="M143,403.6H161.5" stroke="#a07466" stroke-width="1.0" opacity="0.85"/>
<path d="M150.9,400.9 L153.6,403.6 L150.9,406.3 L148.2,403.6Z" fill="#a45a46"/>
<text x="169.3" y="408.2" font-size="13" fill="#1e1e1e">MSN</text><text x="204.1" y="408.5" font-size="14" font-family="Liberation Serif" fill="#505050">(</text><text x="211.5" y="408.2" font-size="13" fill="#1e1e1e">5</text><text transform="translate(223.4,408.2) scale(0.72,1)" font-size="13" font-family="Liberation Serif" fill="#1e1e1e">μ</text><text x="228.3" y="408.2" font-size="13" fill="#1e1e1e">g/mL</text><text x="261.6" y="408.5" font-size="14" font-family="Liberation Serif" fill="#505050">)</text>
<path d="M143,421.8H161.5" stroke="#6c6c88" stroke-width="1.0" opacity="0.85"/>
<circle cx="151.7" cy="421.8" r="2.34" fill="#3c3c48" stroke="#050505" stroke-width="1.80"/>
<text x="169.8" y="426.4" font-size="13" fill="#1e1e1e">GSH</text><text x="201.6" y="426.7" font-size="14" font-family="Liberation Serif" fill="#505050">(</text><text x="208.7" y="426.4" font-size="13" fill="#1e1e1e">2</text><text x="219.4" y="426.4" font-size="13" fill="#1e1e1e">mM</text><text x="242.2" y="426.7" font-size="14" font-family="Liberation Serif" fill="#505050">)</text>
<path d="M143,440.4H161.5" stroke="#f0a858" stroke-width="1.0" opacity="0.85"/>
<path d="M149.0,438.5 L154.4,438.5 L151.7,443.1Z" fill="#f08a20"/>
<text x="170.4" y="445.0" font-size="13" fill="#1e1e1e">Vehicle</text>
<text x="390.6" y="366.8" font-size="16" fill="#111">D</text>
<path d="M404.9,425.1V586.3H646.6999999999999" stroke="#000" stroke-width="2" fill="none" stroke-linecap="square"/>
<path d="M399.9,425.1H404.9" stroke="#000" stroke-width="2"/>
<text x="398.9" y="429.20000000000005" text-anchor="end" font-size="11" font-weight="bold">30</text>
<path d="M399.9,478.8333333333333H404.9" stroke="#000" stroke-width="2"/>
<text x="398.9" y="482.93333333333334" text-anchor="end" font-size="11" font-weight="bold">20</text>
<path d="M399.9,532.5666666666666H404.9" stroke="#000" stroke-width="2"/>
<text x="398.9" y="536.6666666666666" text-anchor="end" font-size="11" font-weight="bold">10</text>
<path d="M399.9,586.3H404.9" stroke="#000" stroke-width="2"/>
<text x="398.9" y="590.4" text-anchor="end" font-size="11" font-weight="bold">0</text>
<path d="M404.9,586.3V591.3" stroke="#000" stroke-width="2"/>
<text x="404.9" y="603.8" text-anchor="middle" font-size="11" font-weight="bold">0</text>
<path d="M445.2,586.3V591.3" stroke="#000" stroke-width="2"/>
<text x="445.2" y="603.8" text-anchor="middle" font-size="11" font-weight="bold">1</text>
<path d="M485.5,586.3V591.3" stroke="#000" stroke-width="2"/>
<text x="485.5" y="603.8" text-anchor="middle" font-size="11" font-weight="bold">2</text>
<path d="M525.8,586.3V591.3" stroke="#000" stroke-width="2"/>
<text x="525.8" y="603.8" text-anchor="middle" font-size="11" font-weight="bold">3</text>
<path d="M566.1,586.3V591.3" stroke="#000" stroke-width="2"/>
<text x="566.1" y="603.8" text-anchor="middle" font-size="11" font-weight="bold">4</text>
<path d="M606.4,586.3V591.3" stroke="#000" stroke-width="2"/>
<text x="606.4" y="603.8" text-anchor="middle" font-size="11" font-weight="bold">5</text>
<path d="M646.7,586.3V591.3" stroke="#000" stroke-width="2"/>
<text x="646.7" y="603.8" text-anchor="middle" font-size="11" font-weight="bold">6</text>
<text x="526.1" y="621" text-anchor="middle" font-size="13" fill="#222">Time (hours)</text>
<text transform="translate(378.4,638) rotate(-90)" font-size="13.4" fill="#222">H<tspan font-size="9" dy="3">2</tspan><tspan dy="-3">S concentration in culture medium </tspan><tspan dx="3">(</tspan> μM)</text>
<g>
<path d="M425.0,429.4V457.3M422.1,429.4H427.9M422.1,457.3H427.9" stroke="#8a9a8e" stroke-width="1.4" fill="none"/>
<path d="M445.2,531.2V554.9M442.3,531.2H448.1M442.3,554.9H448.1" stroke="#8a9a8e" stroke-width="1.4" fill="none"/>
<path d="M485.5,561.6V571.3M482.6,561.6H488.4M482.6,571.3H488.4" stroke="#8a9a8e" stroke-width="1.4" fill="none"/>
<path d="M525.8,575.0V578.2M522.9,575.0H528.7M522.9,578.2H528.7" stroke="#8a9a8e" stroke-width="1.4" fill="none"/>
<polyline points="404.9,583.1 425.0,443.4 445.2,543.0 485.5,566.4 525.8,576.6 566.1,580.8 606.4,580.8 646.7,580.8" fill="none" stroke="#4e7c5e" stroke-width="2.2"/>
<path d="M404.9,579.7 L408.2,583.1 L404.9,586.4 L401.6,583.1Z" fill="#5a6e5e" stroke="#0a0a0a" stroke-width="1.72"/>
<path d="M425.0,440.0 L428.4,443.4 L425.0,446.7 L421.7,443.4Z" fill="#5a6e5e" stroke="#0a0a0a" stroke-width="1.72"/>
<path d="M445.2,539.7 L448.5,543.0 L445.2,546.4 L441.9,543.0Z" fill="#5a6e5e" stroke="#0a0a0a" stroke-width="1.72"/>
<path d="M485.5,563.1 L488.8,566.4 L485.5,569.8 L482.2,566.4Z" fill="#5a6e5e" stroke="#0a0a0a" stroke-width="1.72"/>
<path d="M525.8,573.3 L529.1,576.6 L525.8,580.0 L522.5,576.6Z" fill="#5a6e5e" stroke="#0a0a0a" stroke-width="1.72"/>
<path d="M566.1,577.5 L569.4,580.8 L566.1,584.2 L562.8,580.8Z" fill="#5a6e5e" stroke="#0a0a0a" stroke-width="1.72"/>
<path d="M606.4,577.5 L609.7,580.8 L606.4,584.2 L603.1,580.8Z" fill="#5a6e5e" stroke="#0a0a0a" stroke-width="1.72"/>
<path d="M646.7,577.5 L650.0,580.8 L646.7,584.2 L643.4,580.8Z" fill="#5a6e5e" stroke="#0a0a0a" stroke-width="1.72"/>
</g>
<g>
<path d="M425.0,567.0V572.3M422.1,567.0H427.9M422.1,572.3H427.9" stroke="#444444" stroke-width="1.4" fill="none"/>
<path d="M445.2,554.9V567.8M442.3,554.9H448.1M442.3,567.8H448.1" stroke="#444444" stroke-width="1.4" fill="none"/>
<path d="M485.5,533.6V555.1M482.6,533.6H488.4M482.6,555.1H488.4" stroke="#444444" stroke-width="1.4" fill="none"/>
<path d="M525.8,525.6V550.3M522.9,525.6H528.7M522.9,550.3H528.7" stroke="#444444" stroke-width="1.4" fill="none"/>
<path d="M566.1,522.2V542.1M563.2,522.2H569.0M563.2,542.1H569.0" stroke="#444444" stroke-width="1.4" fill="none"/>
<path d="M606.4,519.4V539.3M603.5,519.4H609.3M603.5,539.3H609.3" stroke="#444444" stroke-width="1.4" fill="none"/>
<path d="M646.7,517.8V535.5M643.8,517.8H649.6M643.8,535.5H649.6" stroke="#444444" stroke-width="1.4" fill="none"/>
<polyline points="404.9,583.1 425.0,569.6 445.2,561.3 485.5,544.4 525.8,537.9 566.1,532.2 606.4,529.3 646.7,526.7" fill="none" stroke="#151515" stroke-width="2.2"/>
<circle cx="404.9" cy="583.1" r="2.99" fill="#111"/>
<circle cx="425.0" cy="569.6" r="2.99" fill="#111"/>
<circle cx="445.2" cy="561.3" r="2.99" fill="#111"/>
<circle cx="485.5" cy="544.4" r="2.99" fill="#111"/>
<circle cx="525.8" cy="537.9" r="2.99" fill="#111"/>
<circle cx="566.1" cy="532.2" r="2.99" fill="#111"/>
<circle cx="606.4" cy="529.3" r="2.99" fill="#111"/>
<circle cx="646.7" cy="526.7" r="2.99" fill="#111"/>
</g>
<g>
<path d="M425.0,555.1V562.7M422.1,555.1H427.9M422.1,562.7H427.9" stroke="#e05048" stroke-width="1.4" fill="none"/>
<path d="M445.2,532.6V548.7M442.3,532.6H448.1M442.3,548.7H448.1" stroke="#e05048" stroke-width="1.4" fill="none"/>
<path d="M485.5,549.2V561.0M482.6,549.2H488.4M482.6,561.0H488.4" stroke="#e05048" stroke-width="1.4" fill="none"/>
<path d="M525.8,554.1V566.4M522.9,554.1H528.7M522.9,566.4H528.7" stroke="#e05048" stroke-width="1.4" fill="none"/>
<path d="M566.1,557.3V568.0M563.2,557.3H569.0M563.2,568.0H569.0" stroke="#e05048" stroke-width="1.4" fill="none"/>
<path d="M606.4,555.1V574.5M603.5,555.1H609.3M603.5,574.5H609.3" stroke="#e05048" stroke-width="1.4" fill="none"/>
<path d="M646.7,555.7V573.9M643.8,555.7H649.6M643.8,573.9H649.6" stroke="#e05048" stroke-width="1.4" fill="none"/>
<polyline points="404.9,583.1 425.0,558.9 445.2,540.6 485.5,555.1 525.8,560.2 566.1,562.7 606.4,564.8 646.7,564.8" fill="none" stroke="#e0302a" stroke-width="2.2"/>
<path d="M404.9,579.4 L408.6,585.8 L401.2,585.8Z" fill="#e02820"/>
<path d="M425.0,555.2 L428.7,561.7 L421.4,561.7Z" fill="#e02820"/>
<path d="M445.2,536.9 L448.9,543.4 L441.5,543.4Z" fill="#e02820"/>
<path d="M485.5,551.5 L489.2,557.9 L481.8,557.9Z" fill="#e02820"/>
<path d="M525.8,556.6 L529.5,563.0 L522.1,563.0Z" fill="#e02820"/>
<path d="M566.1,559.0 L569.8,565.4 L562.4,565.4Z" fill="#e02820"/>
<path d="M606.4,561.1 L610.1,567.6 L602.7,567.6Z" fill="#e02820"/>
<path d="M646.7,561.1 L650.4,567.6 L643.0,567.6Z" fill="#e02820"/>
</g>
<text x="665" y="529.2" text-anchor="middle" font-size="16.5" font-family="Liberation Serif" fill="#1a1a1a">ε</text>
<text x="660.3" y="566.8" text-anchor="middle" font-size="16.5" font-family="Liberation Serif" fill="#1a1a1a">ε</text>
<path d="M669.51,559.00L668.02,565.20M671.98,559.00L670.49,565.20M667.50,560.86H673.10M666.90,563.34H672.50" stroke="#1a1a1a" stroke-width="1.0" fill="none"/>
<path d="M663.80,579.55L662.14,586.45M666.26,579.55L664.60,586.45M661.73,581.62H667.33M661.07,584.38H666.67" stroke="#1a1a1a" stroke-width="1.05" fill="none"/>
<path d="M496.5,401H515" stroke="#151515" stroke-width="2.2" opacity="0.85"/>
<circle cx="506.2" cy="401.0" r="3.25" fill="#111"/>
<text x="523.9" y="405.6" font-size="13" fill="#1e1e1e">DATS-MSN</text><text x="603.9" y="405.9" font-size="14" font-family="Liberation Serif" fill="#505050">(</text><text x="609.1" y="405.6" font-size="13" fill="#1e1e1e">10</text><text transform="translate(628.3,405.6) scale(0.72,1)" font-size="13" font-family="Liberation Serif" fill="#1e1e1e">μ</text><text x="633.2" y="405.6" font-size="13" fill="#1e1e1e">g/mL</text><text x="664.6" y="405.9" font-size="14" font-family="Liberation Serif" fill="#505050">)</text>
<path d="M496.5,427.6H515" stroke="#e0302a" stroke-width="2.2" opacity="0.85"/>
<path d="M505.8,423.6 L509.8,430.6 L501.8,430.6Z" fill="#e02820"/>
<text x="523.5" y="432.2" font-size="13" fill="#1e1e1e">DATS</text><text x="569.5" y="432.5" font-size="14" font-family="Liberation Serif" fill="#505050">(</text><text x="574.2" y="432.2" font-size="13" fill="#1e1e1e">5</text><text transform="translate(587.9,432.2) scale(0.72,1)" font-size="13" font-family="Liberation Serif" fill="#1e1e1e">μ</text><text x="592.8" y="432.2" font-size="13" fill="#1e1e1e">g/mL</text><text x="624.3" y="432.5" font-size="14" font-family="Liberation Serif" fill="#505050">)</text>
<path d="M496.5,452.7H515" stroke="#4e7c5e" stroke-width="2.2" opacity="0.85"/>
<path d="M505.0,449.1 L508.6,452.7 L505.0,456.3 L501.4,452.7Z" fill="#5a6e5e" stroke="#0a0a0a" stroke-width="1.88"/>
<text x="523.9" y="457.3" font-size="13" fill="#1e1e1e">NaHS</text><text x="561.3" y="457.3" font-size="13" fill="#1e1e1e">(</text><text x="566.0" y="457.3" font-size="13" fill="#1e1e1e">80</text><text transform="translate(585.1,457.3) scale(0.72,1)" font-size="13" font-family="Liberation Serif" fill="#1e1e1e">μ</text><text transform="translate(589.7,457.3) scale(1.3,1)" font-size="13" fill="#1e1e1e">M</text><text x="605.5" y="457.3" font-size="13" fill="#1e1e1e">)</text>
</svg></body></html>
